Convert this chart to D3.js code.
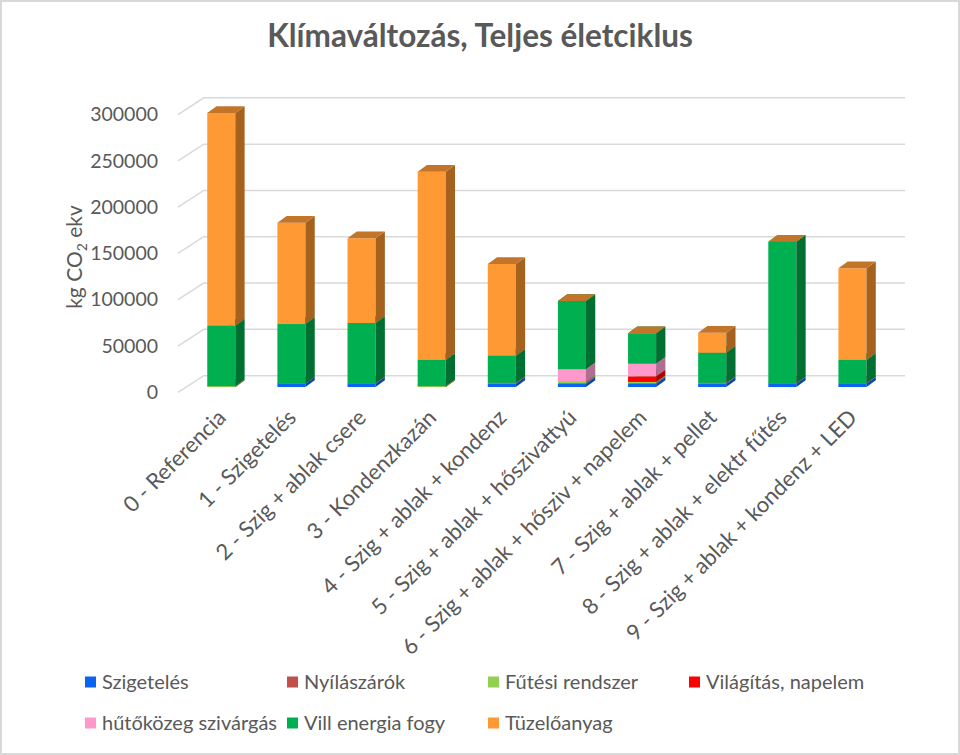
<!DOCTYPE html>
<html>
<head>
<meta charset="utf-8">
<script src="https://cdnjs.cloudflare.com/ajax/libs/d3/7.8.5/d3.min.js"></script>
<style>
  html, body { margin: 0; padding: 0; background: #fff; }
  svg { display: block; }
  text { font-family: Lato, "Open Sans", sans-serif; fill: #595959; }
</style>
</head>
<body>
<svg id="chart" width="960" height="755"></svg>
<script>
// ---- Data ----
const categories = [
  "0 - Referencia",
  "1 - Szigetelés",
  "2 - Szig + ablak csere",
  "3 - Kondenzkazán",
  "4 - Szig + ablak + kondenz",
  "5 - Szig + ablak + hőszivattyú",
  "6 - Szig + ablak + hősziv + napelem",
  "7 - Szig + ablak + pellet",
  "8 - Szig + ablak + elektr fűtés",
  "9 - Szig + ablak + kondenz + LED"
];
const seriesNames = ["Szigetelés", "Nyílászárók", "Fűtési rendszer", "Világítás, napelem",
                     "hűtőközeg szivárgás", "Vill energia fogy", "Tüzelőanyag"];
const szigeteles = [0, 3500, 3500, 0, 3500, 3500, 3500, 3500, 3500, 3500];
const nyilaszarok = [0, 0, 500, 0, 500, 500, 500, 500, 500, 500];
const futesiRendszer = [1000, 0, 0, 1000, 500, 1500, 1500, 500, 0, 0];
const vilagitasNapelem = [0, 0, 0, 0, 0, 0, 6000, 0, 0, 0];
const hutokozeg = [0, 0, 0, 0, 0, 13700, 13700, 0, 0, 0];
const villEnergia = [65200, 64500, 65100, 28200, 29300, 73700, 32800, 32500, 152900, 25200];
const tuzeloanyag = [229800, 109400, 91500, 203300, 99000, 0, 0, 21600, 0, 99000];
const yTicks = [0, 50000, 100000, 150000, 200000, 250000, 300000];

const seriesValues = [szigeteles, nyilaszarok, futesiRendszer, vilagitasNapelem,
                      hutokozeg, villEnergia, tuzeloanyag];
const frontColors = ["#0A64F0", "#C0504D", "#92D050", "#FF0000", "#FF99CC", "#00B050", "#FF9933"];
const sideColors  = ["#0846B0", "#883835", "#679A36", "#B40000", "#B06E90", "#006F32", "#A5621F"];
const topColors   = ["#2A70D8", "#A04440", "#7DB845", "#D00000", "#D882AE", "#008A3E", "#C27428"];

// ---- Layout ----
const svg = d3.select("#chart");
svg.append("rect").attr("x", 1).attr("y", 1).attr("width", 958).attr("height", 753)
  .attr("fill", "#fff").attr("stroke", "#D9D9D9").attr("stroke-width", 2);

const depthX = 25.7, depthY = 16.7;      // full floor depth (oblique)
const barFrac0 = 0.32;                   // front face of bars, fraction of depth
const barDX = 9.3, barDY = 6.7;          // bar depth
const frontLeftX = 178;
const backRightX = 905;

const x = d3.scaleBand().domain(categories)
  .range([frontLeftX + depthX * barFrac0, backRightX - depthX + depthX * barFrac0])
  .paddingInner(0.6).paddingOuter(0.3);

const yBar = d3.scaleLinear().domain([0, 300000]).range([387, 387 - 277.8]);
const shiftY = depthY * barFrac0;  // from bar plane to front plane
const yFront = v => yBar(v) + shiftY;
const yBack = v => yBar(v) - (depthY - shiftY);

// gridlines (left wall slant + back wall)
const grid = svg.append("g");
yTicks.forEach(t => {
  grid.append("polyline")
    .attr("points", [[frontLeftX, yFront(t)], [frontLeftX + depthX, yBack(t)], [backRightX, yBack(t)]]
      .map(p => p.join(",")).join(" "))
    .attr("fill", "none").attr("stroke", "#D9D9D9").attr("stroke-width", 1.5);
});

// y axis labels via d3 axis on front plane
const yAxisScale = d3.scaleLinear().domain([0, 300000]).range([yFront(0), yFront(300000)]);
const yAxis = svg.append("g").attr("transform", "translate(166,0)")
  .call(d3.axisLeft(yAxisScale).tickValues(yTicks).tickSize(0).tickPadding(8).tickFormat(d3.format("d")));
yAxis.select(".domain").remove();
yAxis.selectAll("text").style("font-family", "Lato, sans-serif").style("font-size", "19.5px").attr("fill", "#595959");

// y axis title
const yt = svg.append("text")
  .attr("transform", "translate(82,257) rotate(-90)")
  .attr("text-anchor", "middle")
  .style("font-size", "21px");
yt.append("tspan").text("kg CO");
yt.append("tspan").text("2").style("font-size", "14px").attr("dy", "5");
yt.append("tspan").text(" ekv").attr("dy", "-5");

// stacked data
const rows = categories.map((c, i) => {
  const r = { cat: c };
  seriesNames.forEach((s, k) => r[s] = seriesValues[k][i]);
  return r;
});
const stacked = d3.stack().keys(seriesNames)(rows);

const bw = x.bandwidth();
const barsG = svg.append("g");
categories.forEach((c, i) => {
  const g = barsG.append("g");
  const xl = x(c), xr = xl + bw;
  stacked.forEach((layer, k) => {
    const d = layer[i];
    const y0 = yBar(d[0]), y1 = yBar(d[1]);
    g.append("rect").attr("x", xl).attr("y", y1).attr("width", bw).attr("height", Math.max(0, y0 - y1))
      .attr("fill", frontColors[k]);
    g.append("polygon")
      .attr("points", [[xr, y1], [xr + barDX, y1 - barDY], [xr + barDX, y0 - barDY], [xr, y0]].map(p => p.join(",")).join(" "))
      .attr("fill", sideColors[k]);
    g.append("polygon")
      .attr("points", [[xl, y1], [xl + barDX, y1 - barDY], [xr + barDX, y1 - barDY], [xr, y1]].map(p => p.join(",")).join(" "))
      .attr("fill", topColors[k]);
  });
});

// x labels
svg.append("g").selectAll("text").data(categories).join("text")
  .attr("transform", d => `translate(${x(d) + bw / 2 + 6},${419}) rotate(-45)`)
  .attr("text-anchor", "end")
  .style("font-size", "22px")
  .text(d => d);

// title
svg.append("text").attr("x", 480).attr("y", 47).attr("text-anchor", "middle")
  .style("font-size", "31.5px").style("font-weight", "bold").text("Klímaváltozás, Teljes életciklus");

// legend
const legendPos = [[85, 682], [287, 682], [488, 682], [689, 682], [85, 723], [287, 723], [488, 723]];
const leg = svg.append("g");
seriesNames.forEach((s, k) => {
  const [lx, ly] = legendPos[k];
  leg.append("rect").attr("x", lx).attr("y", ly - 5.5).attr("width", 11).attr("height", 11).attr("fill", frontColors[k]);
  leg.append("text").attr("x", lx + 17).attr("y", ly).attr("dy", "0.35em").style("font-size", "20px").text(s);
});
</script>
</body>
</html>
